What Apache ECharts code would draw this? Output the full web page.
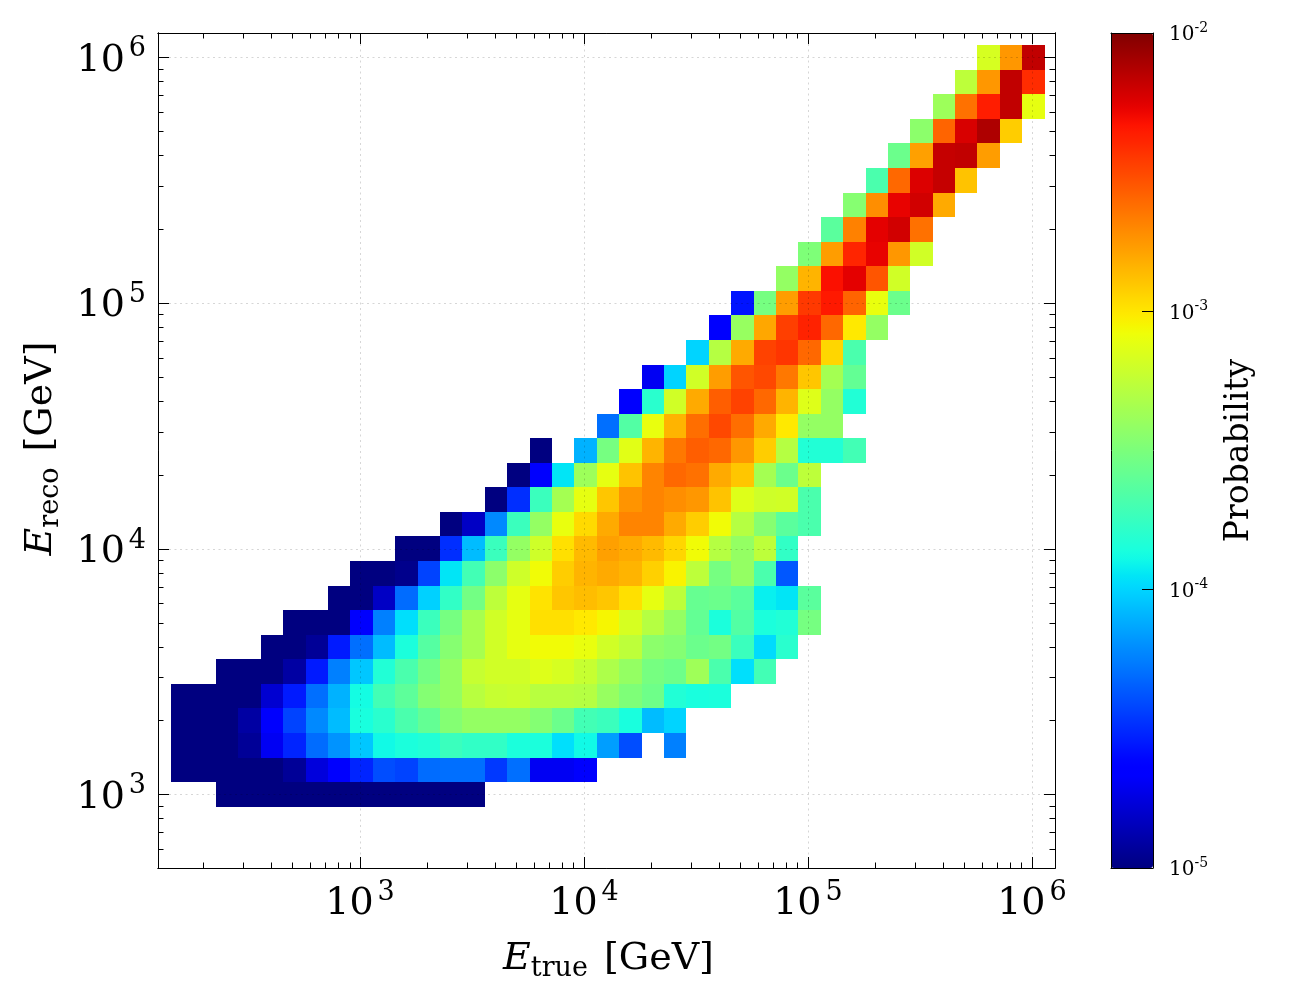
<!DOCTYPE html>
<html><head><meta charset="utf-8">
<style>html,body{margin:0;padding:0;background:#fff}#c{width:1300px;height:1000px}</style>
<script src="https://cdn.jsdelivr.net/npm/echarts@6/dist/echarts.min.js"></script>
</head><body><div id="c"></div>
<script>
// bin edges as log10(GeV)
const xEdgeExp=[2.157,2.257,2.357,2.457,2.557,2.657,2.757,2.857,2.957,3.057,3.157,3.257,3.357,3.457,3.557,3.657,3.757,3.857,3.957,4.057,4.157,4.257,4.357,4.457,4.557,4.657,4.757,4.857,4.957,5.057,5.157,5.257,5.357,5.457,5.557,5.657,5.757,5.857,5.957,6.057];
const yEdgeExp=[2.951,3.051,3.151,3.251,3.351,3.451,3.551,3.651,3.751,3.851,3.951,4.051,4.151,4.251,4.351,4.451,4.551,4.651,4.751,4.851,4.951,5.051,5.151,5.251,5.351,5.451,5.551,5.651,5.751,5.851,5.951,6.051];
// log10(probability) per E_reco row, bottom to top; rowStart = first E_true bin of each row
const rowStart=[2,0,0,0,0,2,4,5,7,8,10,12,14,15,16,19,20,21,23,24,25,27,28,29,30,31,32,33,34,35,36];
const r00=[-5,-5,-5,-5,-5,-5,-5,-5,-5,-5,-5,-5];
const r01=[-5,-5,-5,-5,-5,-4.94,-4.76,-4.67,-4.52,-4.4,-4.43,-4.31,-4.3,-4.3,-4.46,-4.3,-4.7,-4.7,-4.67];
const r02=[-5,-5,-5,-4.94,-4.7,-4.52,-4.31,-4.19,-4.04,-3.89,-3.85,-3.83,-3.74,-3.77,-3.77,-3.85,-3.85,-3.97,-3.89,-4.16,-4.4,null,-4.25];
const r03=[-5,-5,-5,-4.91,-4.67,-4.43,-4.22,-4.07,-3.86,-3.8,-3.68,-3.59,-3.47,-3.41,-3.41,-3.41,-3.47,-3.56,-3.71,-3.74,-3.86,-4.07,-4];
const r04=[-5,-5,-5,-5,-4.79,-4.55,-4.3,-4.1,-3.88,-3.71,-3.61,-3.47,-3.41,-3.28,-3.23,-3.22,-3.28,-3.28,-3.29,-3.4,-3.49,-3.55,-3.83,-3.86,-3.85];
const r05=[-5,-5,-5,-4.91,-4.55,-4.25,-4.04,-3.83,-3.68,-3.53,-3.41,-3.23,-3.19,-3.19,-3.14,-3.17,-3.23,-3.32,-3.41,-3.52,-3.55,-3.37,-3.68,-3.97,-3.71];
const r06=[-5,-5,-4.94,-4.55,-4.3,-4.07,-3.85,-3.64,-3.46,-3.34,-3.19,-3.11,-3.07,-3.07,-3.1,-3.19,-3.26,-3.44,-3.47,-3.56,-3.53,-3.74,-3.98,-3.8];
const r07=[-5,-5,-5,-4.67,-4.25,-3.97,-3.74,-3.52,-3.34,-3.19,-3.11,-2.98,-2.98,-3.01,-3.05,-3.17,-3.29,-3.41,-3.59,-3.85,-3.65,-3.85,-3.83,-3.52];
const r08=[-5,-5,-4.82,-4.31,-4.01,-3.77,-3.53,-3.26,-3.11,-2.99,-2.9,-2.87,-2.9,-2.98,-3.11,-3.26,-3.58,-3.56,-3.62,-3.92,-3.95,-3.62];
const r09=[-5,-5,-4.97,-4.43,-3.95,-3.71,-3.44,-3.2,-3.07,-2.92,-2.84,-2.81,-2.84,-2.93,-3.04,-3.26,-3.52,-3.41,-3.68,-4.37];
const r10=[-5,-5,-4.49,-4.07,-3.74,-3.41,-3.2,-2.98,-2.86,-2.78,-2.81,-2.86,-2.95,-3.07,-3.29,-3.41,-3.26,-3.77];
const r11=[-5,-4.82,-4.22,-3.74,-3.41,-3.1,-2.96,-2.81,-2.69,-2.69,-2.81,-2.92,-3.07,-3.29,-3.46,-3.62,-3.68];
const r12=[-5,-4.49,-3.74,-3.35,-3.11,-2.9,-2.74,-2.69,-2.72,-2.75,-2.89,-3.14,-3.2,-3.19,-3.68];
const r13=[-5,-4.67,-3.95,-3.38,-3.11,-2.89,-2.69,-2.6,-2.63,-2.81,-2.9,-3.35,-3.56,-3.26];
const r14=[-5,null,-4.1,-3.52,-3.13,-2.84,-2.65,-2.57,-2.6,-2.75,-2.92,-3.29,-3.83,-3.83,-3.71];
const r15=[-4.3,-3.65,-3.1,-2.84,-2.62,-2.5,-2.62,-2.81,-3.01,-3.41,-3.41];
const r16=[-4.67,-3.8,-3.19,-2.81,-2.57,-2.48,-2.6,-2.84,-3.14,-3.41,-3.83];
const r17=[-4.7,-4,-3.19,-2.77,-2.54,-2.5,-2.65,-2.9,-3.35,-3.59];
const r18=[-4,-3.29,-2.81,-2.48,-2.44,-2.6,-2.95,-3.68];
const r19=[-4.67,-3.4,-2.8,-2.47,-2.38,-2.6,-3.01,-3.41];
const r20=[-4.57,-3.52,-2.77,-2.45,-2.35,-2.59,-3.1,-3.56];
const r21=[-3.41,-2.84,-2.32,-2.26,-2.54,-3.19];
const r22=[-3.49,-2.77,-2.39,-2.27,-2.75,-3.19];
const r23=[-3.62,-2.68,-2.26,-2.21,-2.63];
const r24=[-3.46,-2.72,-2.27,-2.21,-2.81];
const r25=[-3.68,-2.6,-2.24,-2.18,-2.89];
const r26=[-3.56,-2.78,-2.18,-2.17,-2.77];
const r27=[-3.44,-2.59,-2.23,-2.12,-2.92];
const r28=[-3.38,-2.63,-2.36,-2.17,-3.11];
const r29=[-3.26,-2.75,-2.17,-2.41];
const r30=[-3.17,-2.75,-2.17];
const rows=[r00,r01,r02,r03,r04,r05,r06,r07,r08,r09,r10,r11,r12,r13,r14,r15,r16,r17,r18,r19,r20,r21,r22,r23,r24,r25,r26,r27,r28,r29,r30];

const xMajor=[1e3,1e4,1e5,1e6];
const yMajor=[1e3,1e4,1e5,1e6];
const cbMajor=[1e-5,1e-4,1e-3,1e-2];
const xMinor=[200,300,400,500,600,700,800,900,2e3,3e3,4e3,5e3,6e3,7e3,8e3,9e3,2e4,3e4,4e4,5e4,6e4,7e4,8e4,9e4,2e5,3e5,4e5,5e5,6e5,7e5,8e5,9e5];
const yMinor=[600,700,800,900,2e3,3e3,4e3,5e3,6e3,7e3,8e3,9e3,2e4,3e4,4e4,5e4,6e4,7e4,8e4,9e4,2e5,3e5,4e5,5e5,6e5,7e5,8e5,9e5];
const xMin=125.3,xMax=1.268e6,yMin=503,yMax=1.26e6;

const cells=[];
rows.forEach((row,j)=>row.forEach((v,k)=>{
  if(v===null)return;
  const i=rowStart[j]+k;
  cells.push([10**xEdgeExp[i],10**xEdgeExp[i+1],10**yEdgeExp[j],10**yEdgeExp[j+1],v]);
}));

function seg(t,p){for(let k=1;k<p.length;k++){if(t<=p[k][0]){const a=p[k-1],b=p[k];return a[1]+(b[1]-a[1])*(t-a[0])/(b[0]-a[0]);}}return p[p.length-1][1];}
const R=[[0,0],[.35,0],[.66,1],[.89,1],[1,.5]],G=[[0,0],[.125,0],[.375,1],[.64,1],[.91,0],[1,0]],B=[[0,.5],[.11,1],[.34,1],[.65,0],[1,0]];
const jet=[];for(let k=0;k<=128;k++){const t=k/128;jet.push(`rgb(${Math.round(255*seg(t,R))},${Math.round(255*seg(t,G))},${Math.round(255*seg(t,B))})`);}

const F='DejaVu Serif';
const sup=(v,cls)=>{const e=Math.round(Math.log10(v));return `{${cls}b|10}{${cls}s|${e}}`;};
const line={show:true,onZero:false,lineStyle:{color:'#000',width:1}};
const rich={
  bb:{fontFamily:F,fontSize:38,color:'#000',verticalAlign:'bottom',lineHeight:44},
  bs:{fontFamily:F,fontSize:27,color:'#000',verticalAlign:'top',lineHeight:44,padding:[0,0,0,4]},
  cb:{fontFamily:F,fontSize:20,color:'#000',lineHeight:24,verticalAlign:'bottom'},
  cs:{fontFamily:F,fontSize:14,color:'#000',lineHeight:24,verticalAlign:'top'}
};
const nameRich={
  e:{fontFamily:F,fontSize:38,fontStyle:'italic',color:'#000',verticalAlign:'middle',lineHeight:48,padding:[0,0,0,4]},
  t:{fontFamily:F,fontSize:27,color:'#000',verticalAlign:'top',lineHeight:48,padding:[20,0,0,0]},
  g:{fontFamily:F,fontSize:38,color:'#000',verticalAlign:'middle',lineHeight:48,padding:[0,0,0,16]}
};
const grid='rgba(0,0,0,0.16)';
function mk(kind,pos,major,lo,hi,labels,nm){
  return {type:'log',logBase:10,gridIndex:0,position:pos,min:lo,max:hi,z:6,axisLine:line,
    axisTick:{show:true,inside:true,length:major?11:5.5,customValues:major?(kind==='x'?xMajor:yMajor):(kind==='x'?xMinor:yMinor),lineStyle:{color:'#000',width:1}},
    axisLabel:labels?{show:true,customValues:kind==='x'?xMajor:yMajor,formatter:v=>sup(v,'b'),rich:rich,margin:kind==='x'?11:12,hideOverlap:false,showMinLabel:true,showMaxLabel:true}:{show:false},
    splitLine:labels?{show:true,lineStyle:{color:grid,width:1,type:[2,3.5]}}:{show:false},
    minorTick:{show:false},minorSplitLine:{show:false},
    ...(nm||{})};
}
const option={
  animation:false,backgroundColor:'#fff',
  grid:[{left:158,top:33,width:897,height:835,containLabel:false},{left:1111,top:33,width:42,height:835,containLabel:false}],
  xAxis:[
    mk('x','bottom',true,xMin,xMax,true,{name:'{e|E}{t|true}{g|[GeV]}',nameLocation:'middle',nameGap:67,nameTextStyle:{rich:nameRich,color:'#000'}}),
    mk('x','bottom',false,xMin,xMax,false),
    mk('x','top',true,xMin,xMax,false),
    mk('x','top',false,xMin,xMax,false),
    {type:'value',gridIndex:1,position:'bottom',min:0,max:1,z:10,axisLine:line,axisTick:{show:false},axisLabel:{show:false},splitLine:{show:false}},
    {type:'value',gridIndex:1,position:'top',min:0,max:1,z:10,axisLine:line,axisTick:{show:false},axisLabel:{show:false},splitLine:{show:false}}
  ],
  yAxis:[
    mk('y','left',true,yMin,yMax,true,{name:'{e|E}{t|reco}{g|[GeV]}',nameLocation:'middle',nameGap:93,nameTextStyle:{rich:nameRich,color:'#000'}}),
    mk('y','left',false,yMin,yMax,false),
    mk('y','right',true,yMin,yMax,false),
    mk('y','right',false,yMin,yMax,false),
    {type:'log',logBase:10,gridIndex:1,position:'right',min:1e-5,max:1e-2,z:10,axisLine:line,
      axisTick:{show:true,inside:true,length:11,customValues:cbMajor,lineStyle:{color:'#000',width:1}},
      axisLabel:{show:true,customValues:cbMajor,formatter:v=>sup(v,'c'),rich:rich,margin:16,showMinLabel:true,showMaxLabel:true,hideOverlap:false},
      splitLine:{show:false},minorTick:{show:false},
      name:'Probability',nameLocation:'middle',nameGap:70,nameTextStyle:{fontFamily:F,fontSize:33,color:'#000'}},
    {type:'value',gridIndex:1,position:'left',min:0,max:1,z:10,axisLine:line,axisTick:{show:false},axisLabel:{show:false},splitLine:{show:false}}
  ],
  visualMap:{type:'continuous',seriesIndex:0,dimension:4,min:-5,max:-2,calculable:false,realtime:false,showLabel:false,
    left:1111,top:33,itemWidth:42,itemHeight:835,padding:0,text:null,hoverLink:false,inRange:{color:jet},z:4},
  series:[{type:'custom',xAxisIndex:0,yAxisIndex:0,coordinateSystem:'cartesian2d',clip:true,z:2,
    encode:{x:[0,1],y:[2,3]},data:cells,
    renderItem:(params,api)=>{
      const a=api.coord([api.value(0),api.value(2)]),b=api.coord([api.value(1),api.value(3)]);
      const x0=Math.round(a[0]),x1=Math.round(b[0]),y0=Math.round(b[1]),y1=Math.round(a[1]);
      return {type:'rect',shape:{x:x0,y:y0,width:x1-x0,height:y1-y0},style:{fill:api.visual('color'),stroke:null}};
    }}]
};
const chart=echarts.init(document.getElementById('c'),null,{renderer:'canvas'});
chart.setOption(option);
</script></body></html>
